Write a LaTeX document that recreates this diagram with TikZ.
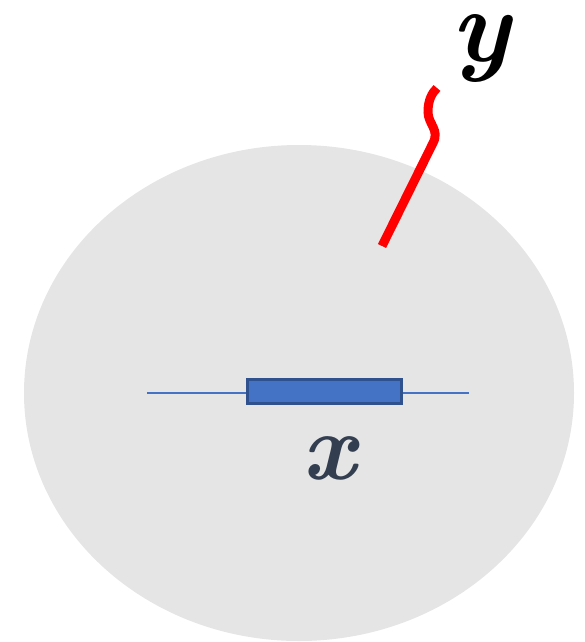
\documentclass[tikz,border=0pt]{standalone}
\usepackage{fontspec}
\definecolor{bggray}{HTML}{E5E5E5}
\definecolor{wireblue}{HTML}{4472C4}
\definecolor{edgeblue}{HTML}{2F528F}
\definecolor{slate}{HTML}{333F50}
\begin{document}
\begin{tikzpicture}[x=1pt,y=-1pt,
  wire/.style={wireblue,line width=2.5pt},
  resbox/.style={draw=edgeblue,fill=wireblue,line width=2.5pt,minimum width=154pt,minimum height=24pt,inner sep=0pt},
  lbl/.style={inner sep=0pt,font=\bfseries\itshape}]
\useasboundingbox (0,0) rectangle (585,642);
\fill[bggray] (299,393) ellipse [x radius=275, y radius=248];
\coordinate (wl) at (147,393);
\coordinate (wr) at (469,393);
\node[resbox] (res) at (324.5,391.5) {};
\draw[wire] (wl) -- (wl -| res.west);
\draw[wire] (wr -| res.east) -- (wr);
\node[lbl,text=slate,font=\fontsize{95}{95}\selectfont\bfseries\itshape] (xl) at (329,458) {x};
\coordinate (r1) at (382,246);
\coordinate (r2) at (433,143);
\coordinate (r3) at (428,112);
\coordinate (r4) at (437,88);
\draw[red,line width=9pt] (r1) -- (r2) .. controls (440,130) and (428,124) .. (r3) .. controls (428,100) and (432,93) .. (r4);
\node[lbl,text=black,font=\fontsize{104}{104}\selectfont\bfseries\itshape] (yl) at (481,49) {y};
\end{tikzpicture}
\end{document}
